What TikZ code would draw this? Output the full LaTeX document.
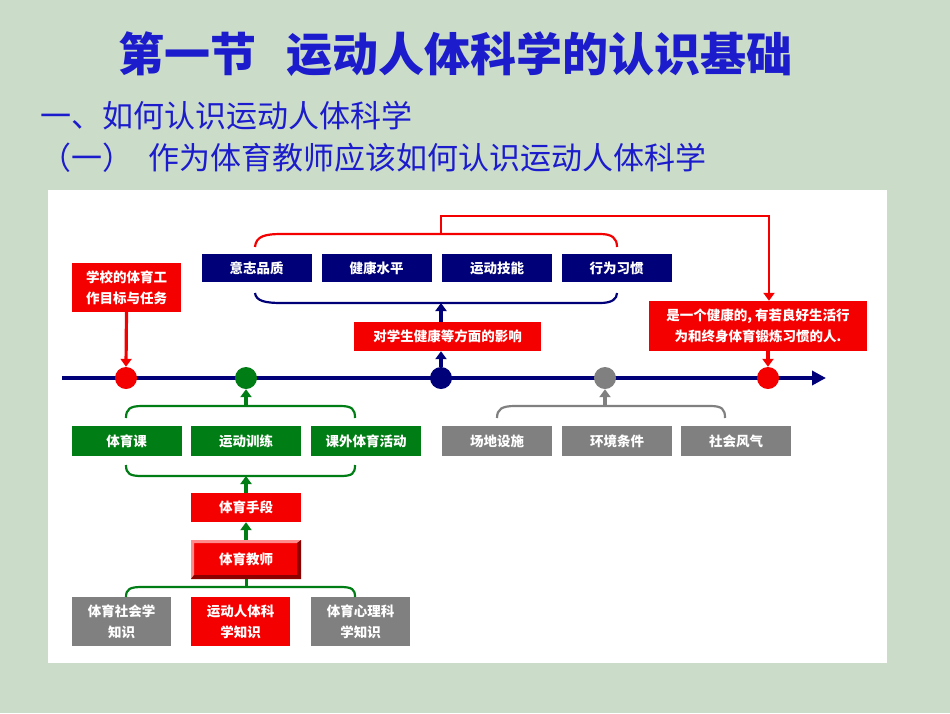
\documentclass[tikz,border=0pt]{standalone}
\usepackage{fontspec}
\setmainfont{Noto Sans CJK SC}
\usetikzlibrary{arrows.meta, positioning}
\definecolor{slideBg}{RGB}{203,221,201}
\definecolor{headBlue}{RGB}{28,28,205}
\definecolor{lineNavy}{RGB}{0,0,120}
\definecolor{pathRed}{RGB}{245,0,0}
\definecolor{pathGreen}{RGB}{0,125,20}
\definecolor{pathGray}{RGB}{128,128,128}

\begin{document}
\begin{tikzpicture}[
  x=1pt, y=-1pt,
  box/.style={
    rectangle, fill=#1, text=white, inner sep=0pt,
    minimum width=110pt, minimum height=29pt,
    font=\fontsize{13.5}{21}\selectfont\bfseries, align=center
  },
  dot/.style={circle, fill=#1, inner sep=0pt, minimum size=22pt},
  arr/.style={-{Triangle[width=11pt,length=8pt]}, line width=3.2pt},
  brace/.style={line width=2.2pt},
  bevel/.style={path picture={
    \fill[red!45!white]
      (path picture bounding box.south west) -- (path picture bounding box.north west)
      -- (path picture bounding box.north east) -- ([shift={(-3pt,-3pt)}]path picture bounding box.north east)
      -- ([shift={(3pt,-3pt)}]path picture bounding box.north west)
      -- ([shift={(3pt,3pt)}]path picture bounding box.south west) -- cycle;
    \fill[red!55!black]
      (path picture bounding box.south west) -- (path picture bounding box.south east)
      -- (path picture bounding box.north east) -- ([shift={(-4pt,-3pt)}]path picture bounding box.north east)
      -- ([shift={(-4pt,4pt)}]path picture bounding box.south east)
      -- ([shift={(3pt,4pt)}]path picture bounding box.south west) -- cycle;
  }},
  head/.style={anchor=west, inner sep=0pt, text=headBlue}
]
  % slide and white panel
  \fill[slideBg] (0,0) rectangle (950,713);
  \fill[white] (48,190) rectangle (887,663);

  % headings
  \node[head, font=\fontsize{46}{50}\selectfont\bfseries] (title) at (118,54)
    {第一节\hspace{0.65em}运动人体科学的认识基础};
  \node[head, font=\fontsize{31}{34}\selectfont] (sec) at (40,116)
    {一、如何认识运动人体科学};
  \node[head, font=\fontsize{31}{34}\selectfont] (subsec) at (40,158)
    {（一）\hspace{0.5em}作为体育教师应该如何认识运动人体科学};

  % time line
  \coordinate (tlA) at (62,378);
  \coordinate (tlB) at (826,378);
  \draw[line width=4.5pt, lineNavy, -{Triangle[width=14pt,length=14pt]}] (tlA) -- (tlB);

  \node[dot=pathRed]   (d1) at (126,378) {};
  \node[dot=pathGreen] (d2) at (246,378) {};
  \node[dot=lineNavy]  (d3) at (441,378) {};
  \node[dot=pathGray]  (d4) at (605,378) {};
  \node[dot=pathRed]   (d5) at (768,378) {};

  % upper part
  \node[box=pathRed, minimum width=109pt, minimum height=49pt] (goal) at (126.5,287.5)
    {学校的体育工\\作目标与任务};
  \node[box=lineNavy, minimum height=28pt] (will)   at (256.5,268) {意志品质};
  \node[box=lineNavy, minimum height=28pt] (health) at (376.5,268) {健康水平};
  \node[box=lineNavy, minimum height=28pt] (skill)  at (497,268)   {运动技能};
  \node[box=lineNavy, minimum height=28pt] (habit)  at (616.5,268) {行为习惯};
  \node[box=pathRed, minimum width=187pt] (impact) at (447.5,336.5) {对学生健康等方面的影响};
  \node[box=pathRed, minimum width=218pt, minimum height=50pt] (person) at (758,326)
    {是一个健康的, 有若良好生活行\\为和终身体育锻炼习惯的人.};

  \draw[brace, pathRed] (255,247) .. controls (256,236) and (265,234) .. (282,234)
    -- (600,234) .. controls (612,234) and (617,238) .. (617,247);
  \draw[brace, lineNavy] (255,293) .. controls (256,301) and (265,303) .. (282,303)
    -- (600,303) .. controls (612,303) and (617,299) .. (617,293);
  \coordinate (topB) at (441,234);
  \coordinate (botB) at (441,303);
  \coordinate (loop) at (769,216);

  \draw[arr, pathRed, line width=2.5pt] (topB) |- (loop) -- (person.north -| loop);
  \draw[arr, pathRed] (goal.south) -- (d1.north);
  \draw[arr, pathRed] (person.south -| d5.north) -- (d5.north);
  \draw[arr, lineNavy] (d3.north) -- (impact.south -| d3.north);
  \draw[arr, lineNavy] (impact.north -| botB) -- (botB);

  % lower part
  \node[box=pathGreen, minimum height=30pt] (lesson) at (126.5,441) {体育课};
  \node[box=pathGreen, minimum height=30pt] (train)  at (246,441)   {运动训练};
  \node[box=pathGreen, minimum height=30pt] (extra)  at (366,441)   {课外体育活动};
  \node[box=pathRed] (means) at (246,507.5) {体育手段};
  \node[box=pathRed, bevel, minimum height=39pt] (teacher) at (246,559.5) {体育教师};
  \node[box=pathGray, minimum width=99pt, minimum height=49pt] (soc) at (121.5,621.5)
    {体育社会学\\知识};
  \node[box=pathRed, minimum width=99pt, minimum height=49pt] (sci) at (240.5,621.5)
    {运动人体科\\学知识};
  \node[box=pathGray, minimum width=99pt, minimum height=49pt] (psy) at (360.5,621.5)
    {体育心理科\\学知识};

  \node[box=pathGray, minimum height=30pt] (venue)  at (497,441) {场地设施};
  \node[box=pathGray, minimum height=30pt] (env)    at (617,441) {环境条件};
  \node[box=pathGray, minimum height=30pt] (custom) at (736,441) {社会风气};

  \draw[brace, pathGreen] (126,418) .. controls (126,409) and (130,406) .. (142,406)
    -- (340,406) .. controls (352,406) and (355,409) .. (355,418);
  \draw[brace, pathGreen] (126,465) .. controls (126,474) and (130,476) .. (142,476)
    -- (340,476) .. controls (352,476) and (355,474) .. (355,465);
  \draw[brace, pathGreen] (126,597) .. controls (126,589) and (130,587) .. (142,587)
    -- (340,587) .. controls (352,587) and (355,589) .. (355,597);
  \draw[brace, pathGray] (497,418) .. controls (497,409) and (502,406) .. (515,406)
    -- (710,406) .. controls (722,406) and (725,409) .. (725,418);
  \coordinate (greenT) at (246,406);
  \coordinate (greenB) at (246,476);
  \coordinate (greenK) at (246,587);
  \coordinate (grayT)  at (605,406);

  \draw[arr, pathGreen] (greenT) -- (d2.south);
  \draw[arr, pathGreen] (means.north) -- (greenB);
  \draw[arr, pathGreen] (teacher.north) -- (means.south);
  \draw[brace, line width=3pt, pathGreen] (teacher.south) -- (greenK);
  \draw[arr, pathGray] (grayT) -- (d4.south);
\end{tikzpicture}
\end{document}
